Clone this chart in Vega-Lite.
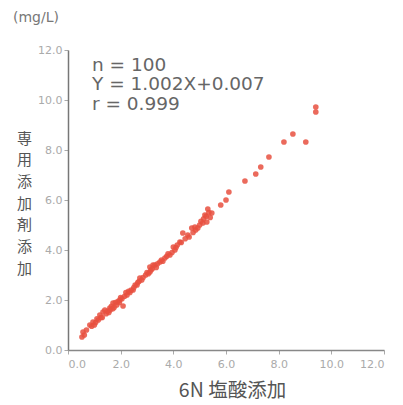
{
  "$schema": "https://vega.github.io/schema/vega-lite/v6.json",
  "width": 316,
  "height": 300,
  "autosize": "none",
  "padding": {"left": 68, "top": 50, "right": 19, "bottom": 55},
  "background": "white",
  "config": {"view": {"stroke": null}},
  "title": {"text": "(mg/L)", "anchor": "start", "frame": "group", "dx": -55, "offset": 19, "font": "DejaVu Sans", "fontSize": 14, "fontWeight": "normal", "color": "#777"},
  "datasets": {
    "pts": [
      {"x": 0.53, "y": 0.52}, {"x": 0.57, "y": 0.72}, {"x": 0.62, "y": 0.6}, {"x": 0.7, "y": 0.8},
      {"x": 0.83, "y": 1.0}, {"x": 0.9, "y": 0.95}, {"x": 0.95, "y": 1.12}, {"x": 1.0, "y": 1.0},
      {"x": 1.05, "y": 1.1}, {"x": 1.1, "y": 1.25}, {"x": 1.15, "y": 1.2}, {"x": 1.21, "y": 1.4},
      {"x": 1.25, "y": 1.3}, {"x": 1.3, "y": 1.3}, {"x": 1.33, "y": 1.52}, {"x": 1.4, "y": 1.6},
      {"x": 1.45, "y": 1.45}, {"x": 1.5, "y": 1.55}, {"x": 1.55, "y": 1.5}, {"x": 1.59, "y": 1.68},
      {"x": 1.6, "y": 1.6}, {"x": 1.65, "y": 1.75}, {"x": 1.7, "y": 1.65}, {"x": 1.71, "y": 1.88},
      {"x": 1.75, "y": 1.7}, {"x": 1.8, "y": 1.9}, {"x": 1.85, "y": 1.8}, {"x": 1.9, "y": 1.95},
      {"x": 1.95, "y": 1.9}, {"x": 1.97, "y": 2.0}, {"x": 2.0, "y": 2.1}, {"x": 2.05, "y": 2.05},
      {"x": 2.09, "y": 1.76}, {"x": 2.15, "y": 2.15}, {"x": 2.2, "y": 2.3}, {"x": 2.24, "y": 2.2},
      {"x": 2.3, "y": 2.35}, {"x": 2.35, "y": 2.3}, {"x": 2.4, "y": 2.4}, {"x": 2.47, "y": 2.4},
      {"x": 2.5, "y": 2.5}, {"x": 2.55, "y": 2.6}, {"x": 2.62, "y": 2.6}, {"x": 2.65, "y": 2.7},
      {"x": 2.7, "y": 2.75}, {"x": 2.73, "y": 2.88}, {"x": 2.8, "y": 2.8}, {"x": 2.85, "y": 2.9},
      {"x": 2.95, "y": 3.0}, {"x": 3.0, "y": 3.1}, {"x": 3.05, "y": 3.05}, {"x": 3.11, "y": 3.12},
      {"x": 3.11, "y": 3.32}, {"x": 3.15, "y": 3.2}, {"x": 3.2, "y": 3.25}, {"x": 3.23, "y": 3.4},
      {"x": 3.3, "y": 3.4}, {"x": 3.35, "y": 3.3}, {"x": 3.4, "y": 3.45}, {"x": 3.49, "y": 3.52},
      {"x": 3.55, "y": 3.6}, {"x": 3.6, "y": 3.55}, {"x": 3.68, "y": 3.68}, {"x": 3.75, "y": 3.75},
      {"x": 3.8, "y": 3.85}, {"x": 3.87, "y": 3.8}, {"x": 3.95, "y": 3.9}, {"x": 4.0, "y": 4.12},
      {"x": 4.06, "y": 4.0}, {"x": 4.1, "y": 4.1}, {"x": 4.15, "y": 4.2}, {"x": 4.25, "y": 4.32},
      {"x": 4.3, "y": 4.3}, {"x": 4.36, "y": 4.68}, {"x": 4.45, "y": 4.45}, {"x": 4.55, "y": 4.6},
      {"x": 4.6, "y": 4.52}, {"x": 4.7, "y": 4.88}, {"x": 4.75, "y": 4.7}, {"x": 4.82, "y": 4.92},
      {"x": 4.85, "y": 4.8}, {"x": 4.93, "y": 4.88}, {"x": 5.0, "y": 5.0}, {"x": 5.05, "y": 5.15},
      {"x": 5.12, "y": 5.08}, {"x": 5.15, "y": 5.25}, {"x": 5.2, "y": 5.4}, {"x": 5.25, "y": 5.35},
      {"x": 5.27, "y": 5.12}, {"x": 5.31, "y": 5.64}, {"x": 5.35, "y": 5.5}, {"x": 5.4, "y": 5.3},
      {"x": 5.46, "y": 5.48}, {"x": 5.8, "y": 5.8}, {"x": 6.0, "y": 6.0}, {"x": 6.11, "y": 6.32},
      {"x": 6.72, "y": 6.76}, {"x": 7.13, "y": 7.04}, {"x": 7.32, "y": 7.32}, {"x": 7.63, "y": 7.72},
      {"x": 8.2, "y": 8.32}, {"x": 8.54, "y": 8.64}, {"x": 9.03, "y": 8.32}, {"x": 9.41, "y": 9.72},
      {"x": 9.41, "y": 9.52}
    ],
    "notes": [
      {"label": "n = 100", "x": 0.91, "y": 11.4},
      {"label": "Y = 1.002X+0.007", "x": 0.91, "y": 10.64},
      {"label": "r = 0.999", "x": 0.91, "y": 9.86}
    ]
  },
  "layer": [
    {
      "data": {"name": "pts"},
      "mark": {"type": "circle", "size": 32, "color": "#e8503f", "opacity": 0.85},
      "encoding": {
        "x": {
          "field": "x", "type": "quantitative",
          "scale": {"domain": [0, 12], "nice": false, "zero": true},
          "axis": {
            "values": [0, 2, 4, 6, 8, 10, 12], "format": ".1f", "grid": false,
            "title": "6N 塩酸添加", "titleFont": "Noto Sans CJK JP", "titleFontSize": 19.5, "titleFontWeight": "normal",
            "titleColor": "#555", "titleX": 164, "titleY": 31, "titleAnchor": "middle",
            "domainColor": "#888", "domainWidth": 1.5, "tickColor": "#aaa", "tickSize": 4,
            "labelFont": "DejaVu Sans", "labelFontSize": 11, "labelColor": "#aaa", "labelPadding": 4
          }
        },
        "y": {
          "field": "y", "type": "quantitative",
          "scale": {"domain": [0, 12], "nice": false, "zero": true},
          "axis": {
            "values": [0, 2, 4, 6, 8, 10, 12], "format": ".1f", "grid": false,
            "title": ["専", "用", "添", "加", "剤", "添", "加"], "titleFont": "Noto Sans CJK JP", "titleFontSize": 15,
            "titleFontWeight": "normal", "titleColor": "#555", "titleAngle": 0, "titleLineHeight": 21.7,
            "titleX": -44, "titleY": 81, "titleAlign": "center", "titleBaseline": "top",
            "domainColor": "#777", "domainWidth": 1.5, "tickColor": "#aaa", "tickSize": 4,
            "labelFont": "DejaVu Sans", "labelFontSize": 11, "labelColor": "#aaa", "labelPadding": 2
          }
        }
      }
    },
    {
      "data": {"name": "notes"},
      "mark": {"type": "text", "align": "left", "baseline": "middle", "font": "DejaVu Sans", "fontSize": 18.5, "color": "#666"},
      "encoding": {
        "x": {"field": "x", "type": "quantitative"},
        "y": {"field": "y", "type": "quantitative"},
        "text": {"field": "label"}
      }
    },
    {
      "mark": {"type": "text", "align": "center", "baseline": "middle", "font": "DejaVu Sans", "fontSize": 14, "color": "#777", "clip": false},
      "encoding": {
        "x": {"datum": 11.54, "type": "quantitative"},
        "y": {"datum": -1.4, "type": "quantitative"},
        "text": {"value": "(mg/L)"}
      }
    }
  ]
}
